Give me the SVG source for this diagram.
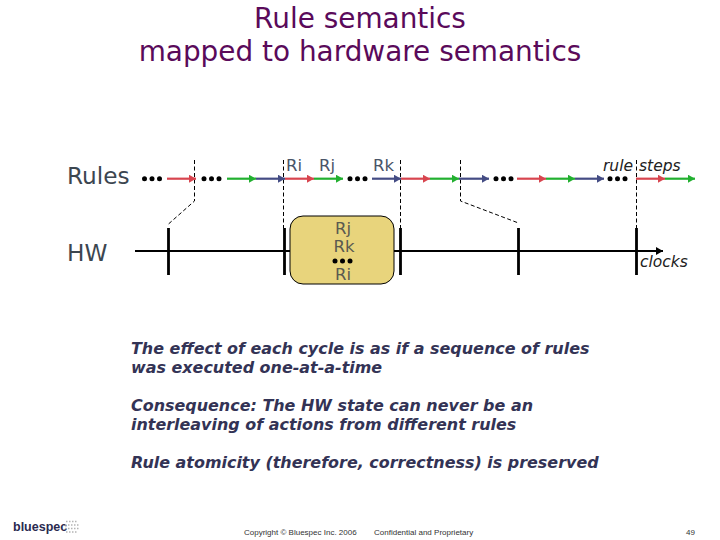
<svg xmlns="http://www.w3.org/2000/svg" width="720" height="540" viewBox="0 0 720 540">
<style>
text{font-family:"DejaVu Sans",Verdana,sans-serif}
.title{font-size:27.9px;fill:#5a0a5a;text-anchor:middle}
.lab{font-size:23.200px;fill:#3c4650}
.r{font-size:16.5px;fill:#4a5468}
.bt{font-size:16.5px;fill:#5a5a50;text-anchor:middle}
.it{font-size:15.5px;font-style:italic;fill:#222}
.body{font-size:15.95px;font-style:italic;font-weight:bold;fill:#333355}
.foot{font-family:"Liberation Sans",Arial,sans-serif;font-size:8px;fill:#333}
.red{stroke:#d8454f;fill:none;stroke-width:2.2;marker-end:url(#mr)}
.grn{stroke:#22b030;fill:none;stroke-width:2.2;marker-end:url(#mg)}
.blu{stroke:#444c84;fill:none;stroke-width:2.2;marker-end:url(#mb)}
.dash{stroke:#000;fill:none;stroke-width:1;stroke-dasharray:4 2.5}
.tick{stroke:#000;stroke-width:2.8}
.grid{stroke:#b4b4b4;stroke-width:1.500;stroke-dasharray:1.500 1.500;fill:none}
</style>
<defs>
<marker id="mr" markerUnits="userSpaceOnUse" markerWidth="8" markerHeight="8" refX="7" refY="4" orient="auto"><path d="M0 0L7 4L0 8Z" fill="#d8454f"/></marker>
<marker id="mg" markerUnits="userSpaceOnUse" markerWidth="8" markerHeight="8" refX="7" refY="4" orient="auto"><path d="M0 0L7 4L0 8Z" fill="#22b030"/></marker>
<marker id="mb" markerUnits="userSpaceOnUse" markerWidth="8" markerHeight="8" refX="7" refY="4" orient="auto"><path d="M0 0L7 4L0 8Z" fill="#444c84"/></marker>
<marker id="mk" markerUnits="userSpaceOnUse" markerWidth="8" markerHeight="8" refX="7" refY="4" orient="auto"><path d="M0 0L7 4L0 8Z" fill="#000"/></marker>
<g id="d"><circle cx="0" cy="0" r="2.5"/><circle cx="7.5" cy="0" r="2.5"/><circle cx="15" cy="0" r="2.5"/></g>
</defs>
<g id="title">
<text class="title" x="360" y="28">Rule semantics</text>
<text class="title" x="360" y="61">mapped to hardware semantics</text>
</g>
<g id="connectors">
<path class="dash" d="M194.500 160V201L168.500 224"/>
<path class="dash" d="M283.500 160V228"/>
<path class="dash" d="M400.500 160V228"/>
<path class="dash" d="M460.500 160V201L518.500 223"/>
<path class="dash" d="M636.500 160V228"/>
<path d="M135 251H663" stroke="#000" stroke-width="2" fill="none" marker-end="url(#mk)"/>
<path class="tick" d="M168.500 228V275M284.500 228V275M400.500 228V275M518.500 228V275M636.500 228V275"/>
<path class="red" d="M167 178.700H196"/>
<path class="grn" d="M227 178.700H256"/>
<path class="blu" d="M256 178.700H285"/>
<path class="red" d="M285 178.700H314"/>
<path class="grn" d="M314 178.700H343"/>
<path class="blu" d="M372 178.700H401"/>
<path class="red" d="M401 178.700H430"/>
<path class="grn" d="M430 178.700H459"/>
<path class="blu" d="M459 178.700H489"/>
<path class="red" d="M517 178.700H546"/>
<path class="grn" d="M546 178.700H575"/>
<path class="blu" d="M575 178.700H604"/>
<path class="red" d="M636 178.700H665"/>
<path class="grn" d="M665 178.700H695"/>
<use href="#d" x="144.500" y="178.700"/>
<use href="#d" x="204" y="178.700"/>
<use href="#d" x="350" y="178.700"/>
<use href="#d" x="496" y="178.700"/>
<use href="#d" x="610" y="178.700"/>
</g>
<g id="node-labels">
<text class="lab" x="67" y="184">Rules</text>
<text class="lab" x="67" y="261">HW</text>
<text class="r" x="286" y="171">Ri</text>
<text class="r" x="319" y="171">Rj</text>
<text class="r" x="373" y="171">Rk</text>
<text class="it" x="603" y="171">rule</text>
<text class="it" x="639" y="171">steps</text>
<text class="it" x="640" y="267">clocks</text>
</g>
<g id="box">
<rect x="290" y="216" width="104" height="68" rx="13" fill="#e8d47c" stroke="#000" stroke-width="1"/>
<text class="bt" x="343" y="234">Rj</text>
<text class="bt" x="344" y="252">Rk</text>
<text class="bt" x="343" y="280">Ri</text>
<use href="#d" x="335" y="261"/>
</g>
<g id="body">
<text class="body" x="131" y="354">The effect of each cycle is as if a sequence of rules</text>
<text class="body" x="131" y="373">was executed one-at-a-time</text>
<text class="body" x="131" y="411">Consequence: The HW state can never be an</text>
<text class="body" x="131" y="430">interleaving of actions from different rules</text>
<text class="body" x="131" y="468">Rule atomicity (therefore, correctness) is preserved</text>
</g>
<g id="footer">
<text x="13" y="531" style="font-family:'Liberation Sans',Arial,sans-serif;font-size:12.500px;font-weight:bold;fill:#2a2a50">bluespec</text>
<path class="grid" d="M66 521.500H78M65 525H80M65 528.500H80M66 532H78"/>
<text class="foot" x="244" y="535">Copyright © Bluespec Inc. 2006</text>
<text class="foot" x="374" y="535">Confidential and Proprietary</text>
<text class="foot" x="686" y="535">49</text>
</g>
</svg>
